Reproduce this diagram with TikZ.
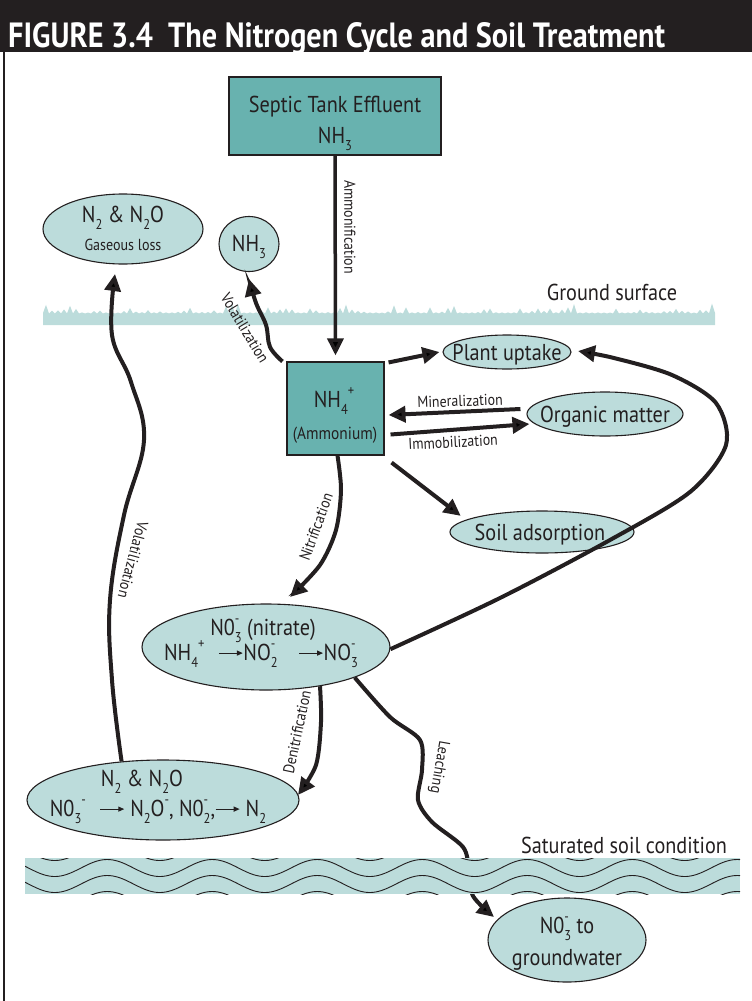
\documentclass[tikz,border=0pt]{standalone}
\usepackage{fontspec}
\setmainfont{PT Sans}[FakeStretch=0.88]
\usetikzlibrary{arrows.meta,shapes.geometric}
\definecolor{ink}{HTML}{231F20}
\definecolor{pale}{HTML}{BCDCDB}
\definecolor{boxteal}{HTML}{68B2AF}
\newcommand\subx[1]{\raisebox{-0.32em}{\scalebox{0.62}{#1}}}
\newcommand\supx[1]{\raisebox{0.5em}{\scalebox{0.62}{#1}}}
\newcommand\supsub[2]{\rlap{\supx{#1}}\subx{#2}}
\newcommand\tarrow{\tikz[baseline=-0.3em,x=1pt,y=1pt]\draw[ink,line width=1.2pt,-{Triangle[length=6pt,width=5pt]}](0,0)--(24,0);}
\begin{document}
\begin{tikzpicture}[x=1pt,y=-1pt,
  arr/.style={draw=ink,line width=4pt,-{Triangle[length=17pt,width=16pt]}},
  oval/.style={ellipse,draw=ink,line width=1.1pt,fill=pale,inner sep=0pt},
  sq/.style={rectangle,draw=ink,line width=1.1pt,fill=boxteal,inner sep=0pt},
  big/.style={font=\fontsize{23}{27}\selectfont,text=ink,inner sep=0pt,anchor=base},
  mid/.style={font=\fontsize{17.5}{20}\selectfont,text=ink,inner sep=0pt,anchor=base},
  small/.style={font=\fontsize{15.8}{18}\selectfont,text=ink,inner sep=0pt}]
\useasboundingbox (0,0) rectangle (752,1001);
% title bar
\fill[ink] (0,0) rectangle (752,52);
\node[anchor=base west,inner sep=0pt,text=white] (title) at (8,47)
  {\resizebox{657pt}{25pt}{\bfseries FIGURE 3.4\ \ The Nitrogen Cycle and Soil Treatment}};
\draw[ink,line width=1.5pt] (4,52) -- (4,1001);
% ground surface strip
\pgfmathsetseed{11}
\fill[pale] (43,325) -- (43,313)
  \foreach \x [count=\i] in {46,49,...,712} { -- (\x,{313.5-mod(\i,2)*(1+9*rnd^3)}) }
  -- (715,313) -- (715,325) -- cycle;
\node[big] (gs) at (612,300) {Ground surface};
% nodes
\node[sq,minimum width=212pt,minimum height=78pt] (sep) at (335,116) {};
\node[big] (sep1) at (335,112) {Septic Tank Effluent};
\node[big] (sep2) at (335,143) {NH\subx{3}};
\node[sq,minimum width=97pt,minimum height=93pt] (nh4) at (335.5,408.5) {};
\node[big] (nh4t) at (334,407) {NH\subx{4}\supx{+}};
\node[mid] (amm) at (335,439) {(Ammonium)};
\node[oval,minimum width=160pt,minimum height=70pt] (gas) at (123,229) {};
\node[big] (gast) at (123,222) {N\subx{2} \& N\subx{2}O};
\node[mid,font=\fontsize{16}{18}\selectfont] (gasl) at (123,250) {Gaseous loss};
\node[oval,minimum width=60pt,minimum height=55pt] (nh3) at (249,244) {};
\node[big] (nh3t) at (249,251) {NH\subx{3}};
\node[oval,minimum width=128pt,minimum height=34pt] (plant) at (507,352) {};
\node[big] (plantt) at (507,360) {Plant uptake};
\node[oval,minimum width=156pt,minimum height=44pt] (org) at (605,414) {};
\node[big] (orgt) at (605,422) {Organic matter};
\node[oval,minimum width=184pt,minimum height=42pt] (soil) at (542,532) {};
\node[big] (soilt) at (540,540) {Soil adsorption};
\node[oval,minimum width=248pt,minimum height=86pt] (nitrate) at (266,647) {};
\node[big] (nit1) at (263,635) {N0\supsub{-}{3} (nitrate)};
\node[big] (nit2) at (261,660) {NH\subx{4}\supx{+}\hspace{0.6em}\tarrow NO\supsub{-}{2}\hspace{0.9em}\tarrow NO\supsub{-}{3}};
\node[oval,minimum width=272pt,minimum height=80pt] (deni) at (163,800) {};
\node[big] (den1) at (142,786) {N\subx{2} \& N\subx{2}O};
\node[big] (den2) at (158,816) {N0\subx{3}\supx{-}\hspace{0.6em}\tarrow\ N\subx{2}O\supx{-}, N0\supsub{-}{2},\tarrow\ N\subx{2}};
\node[oval,minimum width=158pt,minimum height=84pt] (gw) at (567,940) {};
\node[big] (gw1) at (567,933) {N0\supsub{-}{3} to};
\node[big] (gw2) at (567,965) {groundwater};
% connectors
\draw[arr,line width=3.5pt] (sep.south) -- ([yshift=6pt]nh4.north);
\draw[arr] plot[smooth,tension=0.6] coordinates {([xshift=-4pt]nh4.north west) (270,347) (266,325) (256,303) (249,279)};
\draw[arr] ([shift={(4pt,-1pt)}]nh4.north east) -- ([xshift=-3pt]plant.west);
\draw[arr] ([shift={(-6pt,5pt)}]org.west) -- ([shift={(4pt,-6.5pt)}]nh4.east);
\draw[arr] ([shift={(6pt,-26pt)}]nh4.east) -- ([shift={(3pt,-10pt)}]org.west);
\draw[arr] ([shift={(7pt,-7pt)}]nh4.south east) -- ([shift={(-2pt,5pt)}]soil.172.5);
\draw[arr] plot[smooth] coordinates {([xshift=2pt]nh4.south) (341,490) (336,530) (320,565) (290,597)};
\draw[arr] plot[smooth] coordinates {(nitrate.-1.7) (500,598) (610,540) (690,492) (726,445) (716,403) (672,375) (614,358) (578,351)};
\draw[arr] plot[smooth] coordinates {(nitrate.-36.9) (321,722) (316,765) (298,795)};
\draw[arr] plot[smooth,tension=0.65] coordinates {(deni.137) (112,680) (110,600) (124,515) (144,440) (131,382) (112,335) (115,274)};
\draw[arr] plot[smooth] coordinates {(nitrate.-19.6) (390,717) (420,740) (422,770) (418,800) (432,822) (463,847) (469,870) (473,896) (494,917)};
% saturated strip
\begin{scope}
  \clip (25,858) rectangle (740,894);
  \fill[pale] (25,858) rectangle (740,894);
  \foreach \off in {-3,13,29,45}
    \draw[ink,line width=0.9pt] plot[domain=25:740,samples=280] (\x,{855+\off+8.5*sin(3.4286*(\x-28.5))});
\end{scope}
\node[big] (ssc) at (624,853) {Saturated soil condition};
% connector labels
\node[small,rotate=-90] (lamm) at (350,227) {Ammonification};
\node[small,rotate=-59] (lvol1) at (245,328) {Volatilization};
\node[small,rotate=2] (lmin) at (460,401) {Mineralization};
\node[small,rotate=3] (limm) at (453,442) {Immobilization};
\node[small,rotate=70] (lnit) at (316,527) {Nitrification};
\node[small,rotate=78] (lden) at (297,732) {Denitrification};
\node[small,rotate=-105] (lvol2) at (133,560) {Volatilization};
\node[small,rotate=-100] (lleach) at (439,767) {Leaching};
\end{tikzpicture}
\end{document}
